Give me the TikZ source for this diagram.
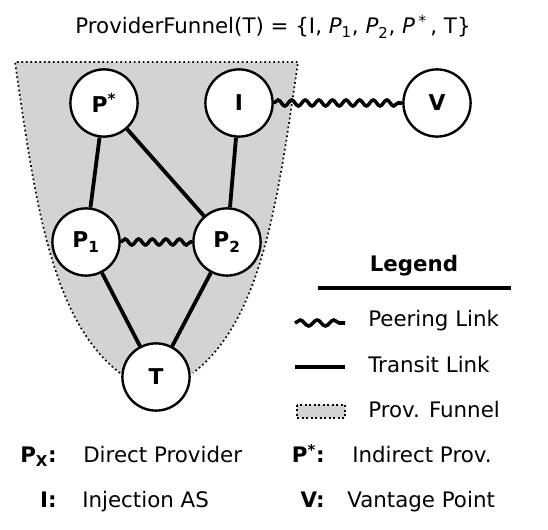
\documentclass[tikz,border=0pt]{standalone}
\usepackage{fontspec}
\setmainfont{DejaVu Sans}
\usetikzlibrary{decorations.pathmorphing}
\definecolor{funnelgray}{RGB}{211,211,211}

\begin{document}
\begin{tikzpicture}[main node/.style={circle,fill=white,draw,line width=1.7pt,minimum size=1.68cm,inner sep=0pt,font=\fontsize{15.5}{18}\selectfont\bfseries},
    transit/.style={line width=2.7pt},
    peering/.style={line width=2.5pt,decorate,decoration={snake,segment length=0.34cm,amplitude=0.075cm}},
    funnel/.style={fill=funnelgray},
    funnel border/.style={line width=1.2pt,dotted},
    txt/.style={font=\fontsize{15.2}{18}\selectfont,inner sep=0pt},
    key/.style={font=\fontsize{15.2}{18}\selectfont\bfseries,inner sep=0pt}]
  \useasboundingbox (0,0) rectangle (13.7,13.25);

  % funnel
  \fill[funnel] (0.375,11.7) -- (7.45,11.7) .. controls (6.95,8.25) and (6.55,5.25) .. (4.825,3.925)
    -- (3.0,3.925) .. controls (1.275,5.25) and (0.875,8.25) .. cycle;
  \draw[funnel border] (3.0,3.925) .. controls (1.275,5.25) and (0.875,8.25) .. (0.375,11.7)
    -- (7.45,11.7) .. controls (6.95,8.25) and (6.55,5.25) .. (4.825,3.925);

  \node[txt,anchor=base] at (6.825,12.4) (title) {ProviderFunnel(T) = \{I, \textit{P}\textsubscript{1}, \textit{P}\textsubscript{2}, \textit{P}\,\textsuperscript{*}\,, T\}};

  \node[main node] at (2.6,10.675) (1) {P\textsuperscript{*}};
  \node[main node] at (5.975,10.675) (2) {I};
  \node[main node] at (10.925,10.675) (3) {V};
  \node[main node] at (2.15,7.2) (4) {P\textsubscript{1}};
  \node[main node] at (5.675,7.2) (5) {P\textsubscript{2}};
  \node[main node] at (3.9,3.825) (6) {T};

  \path[transit]
  (1) edge (4)
  (1) edge (5)
  (2) edge (5)
  (4) edge (6)
  (5) edge (6);

  \path
  (2) edge[peering] (3)
  (4) edge[peering] (5);

  % legend
  \node[key,anchor=base] at (10.35,6.45) (legend) {Legend};
  \draw[line width=2.8pt] (7.95,6.05) -- (12.775,6.05);
  \draw[peering,decoration={segment length=0.42cm}] (7.375,5.175) -- (8.625,5.175);
  \node[txt,anchor=base west] at (9.2,5.075) (peer) {Peering Link};
  \draw[transit] (7.375,4.075) -- (8.625,4.075);
  \node[txt,anchor=base west] at (9.2,3.925) (trans) {Transit Link};
  \filldraw[funnel,funnel border,line width=1pt] (7.425,3.125) rectangle (8.625,2.8);
  \node[txt,anchor=base west] at (9.2,2.8) (funn) {Prov. Funnel};

  % key
  \node[key,anchor=base east] at (1.425,1.675) (kpx) {P\textsubscript{X}:};
  \node[txt,anchor=base west] at (2.075,1.675) (dpx) {Direct Provider};
  \node[key,anchor=base east] at (8.125,1.675) (kps) {P\textsuperscript{*}:};
  \node[txt,anchor=base west] at (8.8,1.675) (dps) {Indirect Prov.};
  \node[key,anchor=base east] at (1.425,0.55) (ki) {I:};
  \node[txt,anchor=base west] at (2.05,0.55) (di) {Injection AS};
  \node[key,anchor=base east] at (8.125,0.55) (kv) {V:};
  \node[txt,anchor=base west] at (8.675,0.55) (dv) {Vantage Point};
\end{tikzpicture}
\end{document}
